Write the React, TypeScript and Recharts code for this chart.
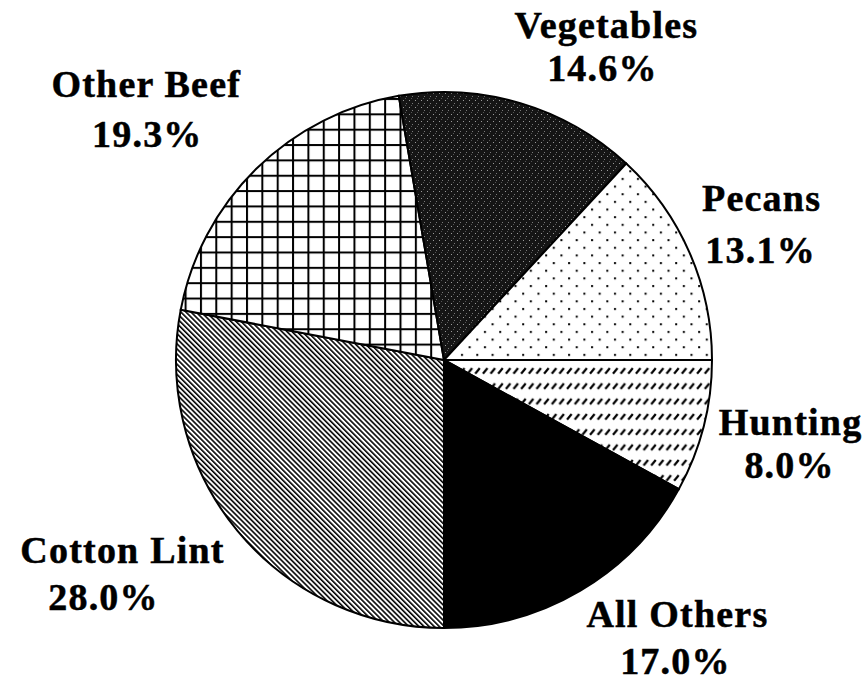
// App.tsx
import React from "react";
import { PieChart, Pie, Cell } from "recharts";

// Share of farm income by commodity (%)
const categories = ["Hunting", "All Others", "Cotton Lint", "Other Beef", "Vegetables", "Pecans"];
const shares = [8.0, 17.0, 28.0, 19.3, 14.6, 13.1];
const fills = ["url(#hunt)", "#000000", "url(#lint)", "url(#beef)", "url(#veg)", "url(#pecan)"];

const data = categories.map((name, i) => ({ name, value: shares[i] }));

// label placement relative to the outer edge of each slice: [dx, dy, dx2, dy2]
const labelOffsets = [
  [87, 8, 86, 51],
  [97, 36, 95, 83],
  [-115, 32, -134, 79],
  [-110, -72, -109, -22],
  [86, -65, 82, -22],
  [72, -42, 71, 10],
];

const RADIAN = Math.PI / 180;
const font = "Tinos, 'Times New Roman', 'Liberation Serif', 'Nimbus Roman', Times, serif";

const renderLabel = (props: any) => {
  const { cx, cy, midAngle, outerRadius, index, value, name } = props;
  const px = cx + outerRadius * Math.cos(-midAngle * RADIAN);
  const py = cy + outerRadius * Math.sin(-midAngle * RADIAN);
  const [dx, dy, dx2, dy2] = labelOffsets[index];
  return (
    <g
      fontFamily={font}
      fontWeight={700}
      fontSize={38}
      letterSpacing={1.2}
      fill="#000"
      stroke="#000"
      strokeWidth={0.5}
    >
      <text x={px + dx} y={py + dy} textAnchor="middle">
        {name}
      </text>
      <text x={px + dx2} y={py + dy2} textAnchor="middle">
        {Number(value).toFixed(1)}%
      </text>
    </g>
  );
};

const App = () => {
  return (
    <div style={{ position: "absolute", left: 0, top: 0, background: "#fff" }}>
      <PieChart width={866} height={681}>
        <defs>
          {/* short slanted dashes in rows */}
          <pattern id="hunt" patternUnits="userSpaceOnUse" width={7.65} height={15.3}>
            <rect width={7.65} height={15.3} fill="#fff" />
            <line x1={1} y1={6.5} x2={5.5} y2={1} stroke="#000" strokeWidth={2.2} />
          </pattern>
          {/* dense back-slash hatching */}
          <pattern id="lint" patternUnits="userSpaceOnUse" width={3.6} height={3.6} patternTransform="rotate(-45)">
            <rect width={3.6} height={3.6} fill="#fff" />
            <rect x={0} y={0} width={1.6} height={3.6} fill="#000" />
          </pattern>
          {/* square grid */}
          <pattern id="beef" patternUnits="userSpaceOnUse" width={15.35} height={15.35} x={0.4} y={5.9}>
            <rect width={15.35} height={15.35} fill="#fff" />
            <rect x={0} y={0} width={2} height={15.35} fill="#000" />
            <rect x={0} y={0} width={15.35} height={2} fill="#000" />
          </pattern>
          {/* dark speckled */}
          <pattern id="veg" patternUnits="userSpaceOnUse" width={6} height={7}>
            <rect width={6} height={7} fill="#151515" />
            <rect x={1} y={2} width={1} height={1} fill="#9a9a9a" />
            <rect x={4} y={5} width={1} height={1} fill="#7a7a7a" />
            <rect x={3} y={0} width={1} height={1} fill="#555" />
          </pattern>
          {/* staggered dots */}
          <pattern id="pecan" patternUnits="userSpaceOnUse" width={15.3} height={15.3}>
            <rect width={15.3} height={15.3} fill="#fff" />
            <rect x={2} y={2} width={2} height={2} fill="#000" />
            <rect x={9.65} y={9.65} width={2} height={2} fill="#000" />
          </pattern>
        </defs>
        <Pie
          data={data}
          dataKey="value"
          nameKey="name"
          cx={439}
          cy={355}
          outerRadius={268}
          startAngle={0}
          endAngle={-360}
          stroke="#000"
          strokeWidth={2}
          label={renderLabel}
          labelLine={false}
          isAnimationActive={false}
        >
          {data.map((d, i) => (
            <Cell key={d.name} fill={fills[i]} />
          ))}
        </Pie>
      </PieChart>
    </div>
  );
};

export default App;
